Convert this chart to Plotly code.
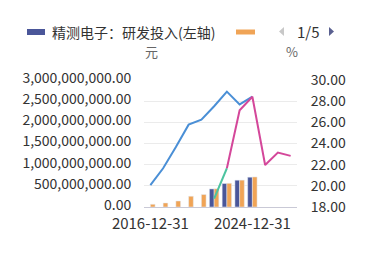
import plotly.graph_objects as go

categories = [f"{y}-12-31" for y in range(2016, 2028)]
tick_labels = ["2016-12-31", "2024-12-31"]

# bars (left axis, 元)
rd_invest = [None, None, None, None, None, 0.427e9, 0.555e9, 0.633e9, 0.704e9, None, None, None]
orange_bar = [0.064e9, 0.095e9, 0.142e9, 0.254e9, 0.294e9, 0.43e9, 0.56e9, 0.635e9, 0.71e9, None, None, None]

# lines (right axis, %)
blue_line = [20.07, 21.66, 23.66, 25.78, 26.26, 27.52, 28.9, 27.69, 28.42, None, None, None]
green_line = [None, None, None, None, None, 18.8, 21.66, None, None, None, None, None]
magenta_line = [None, None, None, None, None, None, 21.66, 27.14, 28.42, 21.97, 23.14, 22.83]

left_ticks = [0, 5e8, 1e9, 1.5e9, 2e9, 2.5e9, 3e9]
right_ticks = [18, 20, 22, 24, 26, 28, 30]

FONT = "Noto Sans CJK SC"
C_NAVY = "#4a5699"
C_ORANGE = "#f0a456"
C_BLUE = "#4a8fd6"
C_GREEN = "#4cc4a0"
C_MAGENTA = "#d4479a"

W, H = 369, 276
L, R, T, B = 144, 72, 80, 69
PW, PH = W - L - R, H - T - B

def px(x):
    return (x - L) / PW

def py(y):
    return (H - B - y) / PH

fig = go.Figure()
fig.add_bar(x=categories, y=rd_invest, marker_color=C_NAVY, name="精测电子：研发投入(左轴)")
fig.add_bar(x=categories, y=orange_bar, marker_color=C_ORANGE, name="orange")
fig.add_scatter(x=categories, y=blue_line, yaxis="y2", mode="lines",
                line=dict(color=C_BLUE, width=2))
fig.add_scatter(x=categories, y=green_line, yaxis="y2", mode="lines",
                line=dict(color=C_GREEN, width=2))
fig.add_scatter(x=categories, y=magenta_line, yaxis="y2", mode="lines",
                line=dict(color=C_MAGENTA, width=2))

shapes = [
    dict(type="rect", xref="paper", yref="paper", x0=px(27), x1=px(45), y0=py(35), y1=py(29),
         fillcolor=C_NAVY, line=dict(width=0)),
    dict(type="rect", xref="paper", yref="paper", x0=px(236), x1=px(255), y0=py(34.5), y1=py(29.5),
         fillcolor=C_ORANGE, line=dict(width=0)),
    dict(type="path", xref="paper", yref="paper",
         path=f"M {px(284)},{py(27)} L {px(279)},{py(31.5)} L {px(284)},{py(36)} Z",
         fillcolor="#c8c8c8", line=dict(width=0)),
    dict(type="path", xref="paper", yref="paper",
         path=f"M {px(329)},{py(27)} L {px(334)},{py(31.5)} L {px(329)},{py(36)} Z",
         fillcolor="#5a6090", line=dict(width=0)),
]

annotations = [
    dict(text="精测电子：研发投入(左轴)", xref="paper", yref="paper", x=px(50), y=py(31.5),
         xanchor="left", yanchor="middle", showarrow=False, font=dict(size=14, color="#333", family=FONT)),
    dict(text="1/5", xref="paper", yref="paper", x=px(308), y=py(31.5),
         xanchor="center", yanchor="middle", showarrow=False, font=dict(size=15, color="#333", family=FONT)),
    dict(text="元", xref="paper", yref="paper", x=px(151), y=py(51),
         xanchor="center", yanchor="middle", showarrow=False, font=dict(size=13, color="#666", family=FONT)),
    dict(text="%", xref="paper", yref="paper", x=px(291.5), y=py(51),
         xanchor="center", yanchor="middle", showarrow=False, font=dict(size=13, color="#666", family=FONT)),
]

fig.update_layout(
    width=W, height=H,
    margin=dict(l=L, r=R, t=T, b=B, pad=0),
    paper_bgcolor="white", plot_bgcolor="white",
    showlegend=False,
    barmode="group", bargap=0.26, bargroupgap=0,
    font=dict(family=FONT, size=14, color="#333"),
    xaxis=dict(type="category", tickmode="array", tickvals=tick_labels, ticktext=tick_labels,
               showgrid=False, showline=True, linecolor="#c9c9d6", linewidth=1,
               ticks="outside", ticklen=3, tickcolor="rgba(0,0,0,0)",
               tickfont=dict(size=15, color="#333", family=FONT), fixedrange=True),
    yaxis=dict(range=[0, 3e9], tickmode="array", tickvals=left_ticks, tickformat=",.2f",
               showgrid=True, gridcolor="#ebebeb", gridwidth=1, zeroline=False,
               ticks="outside", ticklen=9, tickcolor="rgba(0,0,0,0)", ticklabelshift=-2,
               tickfont=dict(size=14, color="#333", family=FONT)),
    yaxis2=dict(range=[18, 30], tickmode="array", tickvals=right_ticks, tickformat=".2f",
                overlaying="y", side="right", showgrid=False, zeroline=False,
                ticks="outside", ticklen=10, tickcolor="rgba(0,0,0,0)",
                tickfont=dict(size=14, color="#333", family=FONT)),
    shapes=shapes,
    annotations=annotations,
)

fig.write_html("out.html")
